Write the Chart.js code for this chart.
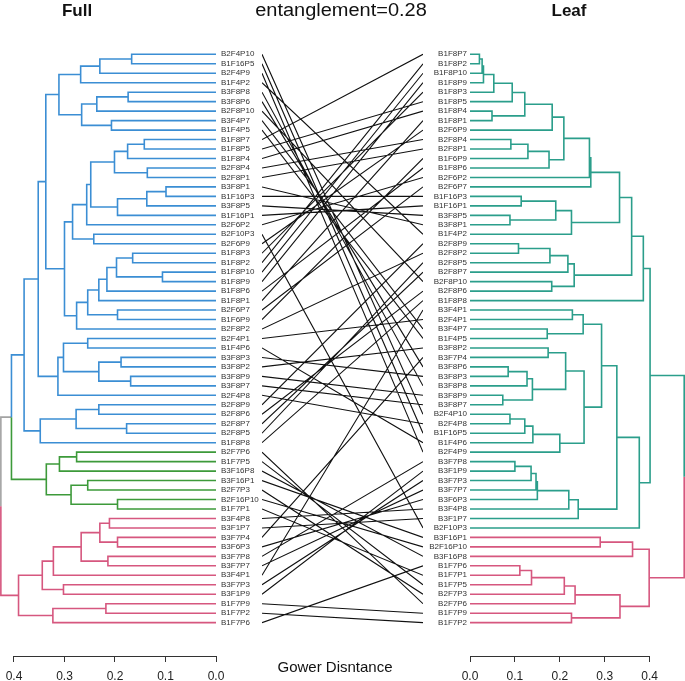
<!DOCTYPE html>
<html>
<head>
<meta charset="utf-8">
<script src="https://cdn.jsdelivr.net/npm/chart.js@4.4.1/dist/chart.umd.min.js"></script>
<style>
  html, body { margin: 0; padding: 0; background: #fff; }
  #wrap { position: relative; width: 685px; height: 681px; overflow: hidden; font-family: Arial, "Liberation Sans", sans-serif; }
  canvas { position: absolute; top: 0; }
  .t { position: absolute; white-space: nowrap; transform: translate(-50%, -50%); color: #111; }
</style>
</head>
<body>
<div id="wrap">
  <canvas id="left" width="266" height="681" style="left:0px"></canvas>
  <canvas id="mid" width="161" height="681" style="left:262px"></canvas>
  <canvas id="right" width="265" height="681" style="left:420px"></canvas>
  <div class="t" style="left:77px;top:11px;font-weight:bold;font-size:17px">Full</div>
  <div class="t" style="left:341px;top:10px;font-size:18px;transform:translate(-50%,-50%) scaleX(1.11)">entanglement=0.28</div>
  <div class="t" style="left:569px;top:11px;font-weight:bold;font-size:17px">Leaf</div>
  <div class="t" style="left:335px;top:666px;font-size:15px">Gower Disntance</div>
</div>
<script>
const FONT = "Arial, 'Liberation Sans', sans-serif";

// leaf order, top to bottom
const leftLabels = ["B2F4P10","B1F16P5","B2F4P9","B1F4P2","B3F8P8","B3F8P6","B2F8P10","B3F4P7","B1F4P5","B1F8P7",
  "B1F8P5","B1F8P4","B2F8P4","B2F8P1","B3F8P1","B1F16P3","B3F8P5","B1F16P1","B2F6P2","B2F10P3",
  "B2F6P9","B1F8P3","B1F8P2","B1F8P10","B1F8P9","B1F8P6","B1F8P1","B2F6P7","B1F6P9","B2F8P2",
  "B2F4P1","B1F4P6","B3F8P3","B3F8P2","B3F8P9","B3F8P7","B2F4P8","B2F8P9","B2F8P6","B2F8P7",
  "B2F8P5","B1F8P8","B2F7P6","B1F7P5","B3F16P8","B3F16P1","B2F7P3","B2F16P10","B1F7P1","B3F4P8",
  "B3F1P7","B3F7P4","B3F6P3","B3F7P8","B3F7P7","B3F4P1","B3F7P3","B3F1P9","B1F7P9","B1F7P2","B1F7P6"];

const rightLabels = ["B1F8P7","B1F8P2","B1F8P10","B1F8P9","B1F8P3","B1F8P5","B1F8P4","B1F8P1","B2F6P9","B2F8P4",
  "B2F8P1","B1F6P9","B1F8P6","B2F6P2","B2F6P7","B1F16P3","B1F16P1","B3F8P5","B3F8P1","B1F4P2",
  "B2F8P9","B2F8P2","B2F8P5","B2F8P7","B2F8P10","B2F8P6","B1F8P8","B3F4P1","B2F4P1","B3F4P7",
  "B1F4P5","B3F8P2","B3F7P4","B3F8P6","B3F8P3","B3F8P8","B3F8P9","B3F8P7","B2F4P10","B2F4P8",
  "B1F16P5","B1F4P6","B2F4P9","B3F7P8","B3F1P9","B3F7P3","B3F7P7","B3F6P3","B3F4P8","B3F1P7",
  "B2F10P3","B3F16P1","B2F16P10","B3F16P8","B1F7P6","B1F7P1","B1F7P5","B2F7P3","B2F7P6","B1F7P9","B1F7P2"];

// merges: [child, child, height]; a string is a leaf, a number is an earlier merge
const leftMerges = [
  ["B2F4P10","B1F16P5",0.167], [0,"B2F4P9",0.230], [1,"B1F4P2",0.268],
  ["B3F8P8","B3F8P6",0.174], [3,"B2F8P10",0.236], ["B3F4P7","B1F4P5",0.207], [4,5,0.266], [2,6,0.311],
  ["B1F8P7","B1F8P5",0.142], [8,"B1F8P4",0.175], ["B2F8P4","B2F8P1",0.136], [9,10,0.201],
  ["B3F8P1","B1F16P3",0.099], [12,"B3F8P5",0.137], [13,"B1F16P1",0.195], [11,14,0.248],
  [15,"B2F6P2",0.256], ["B2F10P3","B2F6P9",0.242], [16,17,0.284],
  ["B1F8P3","B1F8P2",0.165], ["B1F8P10","B1F8P9",0.106], [19,20,0.197], [21,"B1F8P6",0.216],
  [22,"B1F8P1",0.232], ["B2F6P7","B1F6P9",0.195], [23,24,0.254], [25,"B2F8P2",0.276],
  [18,26,0.300], [7,27,0.337],
  ["B2F4P1","B1F4P6",0.254], ["B3F8P3","B3F8P2",0.188], ["B3F8P9","B3F8P7",0.169], [30,31,0.232],
  [29,32,0.302], [33,"B2F4P8",0.313], [28,34,0.352],
  ["B2F8P9","B2F8P6",0.232], ["B2F8P7","B2F8P5",0.177], [36,37,0.277], [38,"B1F8P8",0.348],
  [35,39,0.380],
  ["B2F7P6","B1F7P5",0.276], [41,"B3F16P8",0.310], ["B3F16P1","B2F7P3",0.254],
  ["B2F16P10","B1F7P1",0.195], [43,44,0.287], [42,45,0.336], [40,46,0.405],
  ["B3F4P8","B3F1P7",0.211], ["B3F7P4","B3F6P3",0.195], [48,49,0.230], ["B3F7P8","B3F7P7",0.214],
  [50,51,0.267], [52,"B3F4P1",0.322], ["B3F7P3","B3F1P9",0.302], [53,54,0.344],
  ["B1F7P9","B1F7P2",0.218], [56,"B1F7P6",0.323], [55,57,0.391], [47,58,0.426]
];

const rightMerges = [
  ["B1F8P7","B1F8P2",0.021], [0,"B1F8P10",0.027], [1,"B1F8P9",0.030], [2,"B1F8P3",0.053],
  [3,"B1F8P5",0.094], ["B1F8P4","B1F8P1",0.049], [4,5,0.122], [6,"B2F6P9",0.183],
  ["B2F8P4","B2F8P1",0.091], [8,"B1F6P9",0.129], [9,"B1F8P6",0.176], [7,10,0.209],
  [11,"B2F6P2",0.266], [12,"B2F6P7",0.269],
  ["B1F16P3","B1F16P1",0.114], ["B3F8P5","B3F8P1",0.089], [14,15,0.191], [16,"B1F4P2",0.226],
  [13,17,0.333],
  ["B2F8P9","B2F8P2",0.108], [19,"B2F8P5",0.178], [20,"B2F8P7",0.218], ["B2F8P10","B2F8P6",0.182],
  [21,22,0.232], [18,23,0.360], [24,"B1F8P8",0.386],
  ["B3F4P1","B2F4P1",0.228], ["B3F4P7","B1F4P5",0.172], [26,27,0.252],
  ["B3F8P2","B3F7P4",0.174], ["B3F8P6","B3F8P3",0.085], [30,"B3F8P8",0.127], ["B3F8P9","B3F8P7",0.073],
  [31,32,0.139], [29,33,0.213],
  ["B2F4P10","B2F4P8",0.089], [35,"B1F16P5",0.122], [36,"B1F4P6",0.140], [37,"B2F4P9",0.200],
  [34,38,0.254], [28,39,0.293],
  ["B3F7P8","B3F1P9",0.100], [41,"B3F7P3",0.136], [42,"B3F7P7",0.147], [43,"B3F6P3",0.150],
  [44,"B3F4P8",0.220], [45,"B3F1P7",0.241], [40,46,0.327], [47,"B2F10P3",0.377], [25,48,0.401],
  ["B3F16P1","B2F16P10",0.290], [50,"B3F16P8",0.362],
  ["B1F7P6","B1F7P1",0.111], [52,"B1F7P5",0.137], [53,"B2F7P3",0.210], [54,"B2F7P6",0.234],
  ["B1F7P9","B1F7P2",0.226], [55,56,0.334], [51,57,0.399], [49,58,0.477]
];

// clusters in leaf order
const leftClusterSizes = [42, 7, 12];
const leftClusterColors = ["#3b8ed4", "#3d9a3a", "#d6577f"];
const rightClusterSizes = [51, 10];
const rightClusterColors = ["#2b9e8b", "#d6577f"];
const mixedColor = "#a3a3a3";

const axisTicks = [0, 0.1, 0.2, 0.3, 0.4];
const leftMax = 0.4277;
const rightMax = 0.4788;
const rowMin = 0.5, rowMax = 64.52;

function leafColors(labels, sizes, colors) {
  const out = {};
  let i = 0;
  sizes.forEach((n, k) => {
    for (let j = 0; j < n; j++) out[labels[i++]] = colors[k];
  });
  return out;
}

// one dataset per colour, each child edge as an elbow, gaps between edges
function treeDatasets(labels, merges, colorOf) {
  const nodes = [];
  const get = (c) => typeof c === "string"
    ? { x: 0, y: labels.indexOf(c) + 1, color: colorOf[c] }
    : nodes[c];
  const byColor = {};
  merges.forEach((m, i) => {
    const a = get(m[0]), b = get(m[1]);
    const node = { x: m[2], y: (a.y + b.y) / 2, color: a.color === b.color ? a.color : mixedColor };
    nodes[i] = node;
    [a, b].forEach((c) => {
      const list = byColor[c.color] || (byColor[c.color] = []);
      list.push({ x: node.x, y: node.y }, { x: node.x, y: c.y }, { x: c.x, y: c.y }, { x: null, y: null });
    });
  });
  return Object.keys(byColor).map((col) => ({
    data: byColor[col], borderColor: col, borderWidth: 1.6, pointRadius: 0,
    showLine: true, fill: false, tension: 0
  }));
}

function rowScale(labels, position, padding, show) {
  return {
    type: "linear", min: rowMin, max: rowMax, reverse: true, position: position, display: show,
    grid: { display: false, drawTicks: false },
    border: { display: false },
    afterBuildTicks: (s) => { s.ticks = labels.map((_, i) => ({ value: i + 1 })); },
    afterFit: (s) => { s.width = 50; },
    ticks: {
      autoSkip: false, padding: padding, color: "#333",
      font: { size: 8, family: FONT, lineHeight: 1 },
      callback: (v) => labels[Math.round(v) - 1]
    }
  };
}

function distScale(max, reverse) {
  return {
    type: "linear", min: 0, max: max, reverse: reverse, position: "bottom",
    afterBuildTicks: (s) => { s.ticks = axisTicks.map((v) => ({ value: v })); },
    afterFit: (s) => { s.height = 25; },
    grid: { drawOnChartArea: false, drawTicks: true, tickLength: 6, color: "#333" },
    border: { display: false },
    ticks: {
      padding: 7, color: "#222", autoSkip: false, maxRotation: 0,
      font: { size: 12, family: FONT },
      callback: (v) => Number(v).toFixed(1)
    }
  };
}

// axis line only from first to last tick, like base R
const axisLine = {
  id: "axisLine",
  afterDraw(chart) {
    const s = chart.scales.x;
    if (!s || !s.options.display) return;
    const ctx = chart.ctx;
    ctx.save();
    ctx.strokeStyle = "#333";
    ctx.lineWidth = 1;
    ctx.beginPath();
    ctx.moveTo(s.getPixelForValue(axisTicks[0]), Math.round(s.top) + 0.5);
    ctx.lineTo(s.getPixelForValue(axisTicks[axisTicks.length - 1]), Math.round(s.top) + 0.5);
    ctx.stroke();
    ctx.restore();
  }
};

const baseOptions = {
  responsive: false, animation: false, events: [],
  plugins: { legend: { display: false }, tooltip: { enabled: false } }
};

new Chart(document.getElementById("left").getContext("2d"), {
  type: "scatter",
  data: { datasets: treeDatasets(leftLabels, leftMerges, leafColors(leftLabels, leftClusterSizes, leftClusterColors)) },
  options: Object.assign({}, baseOptions, {
    layout: { padding: { top: 49.56, left: 0, right: 0, bottom: 0 } },
    scales: { x: distScale(leftMax, true), y: rowScale(leftLabels, "right", 5, true) }
  }),
  plugins: [axisLine]
});

new Chart(document.getElementById("right").getContext("2d"), {
  type: "scatter",
  data: { datasets: treeDatasets(rightLabels, rightMerges, leafColors(rightLabels, rightClusterSizes, rightClusterColors)) },
  options: Object.assign({}, baseOptions, {
    layout: { padding: { top: 49.56, left: 0, right: 0, bottom: 0 } },
    scales: { x: distScale(rightMax, false), y: rowScale(rightLabels, "left", 3, true) }
  }),
  plugins: [axisLine]
});

// connecting lines between matching leaves
const links = [];
leftLabels.forEach((name, i) => {
  links.push({ x: 0, y: i + 1 }, { x: 1, y: rightLabels.indexOf(name) + 1 }, { x: null, y: null });
});

new Chart(document.getElementById("mid").getContext("2d"), {
  type: "scatter",
  data: { datasets: [{ data: links, borderColor: "#111", borderWidth: 1.1, pointRadius: 0, showLine: true, fill: false }] },
  options: Object.assign({}, baseOptions, {
    layout: { padding: { top: 49.56, left: 0, right: 0, bottom: 25 } },
    scales: {
      x: { type: "linear", min: 0, max: 1, display: false },
      y: { type: "linear", min: rowMin, max: rowMax, reverse: true, display: false }
    }
  })
});
</script>
</body>
</html>
